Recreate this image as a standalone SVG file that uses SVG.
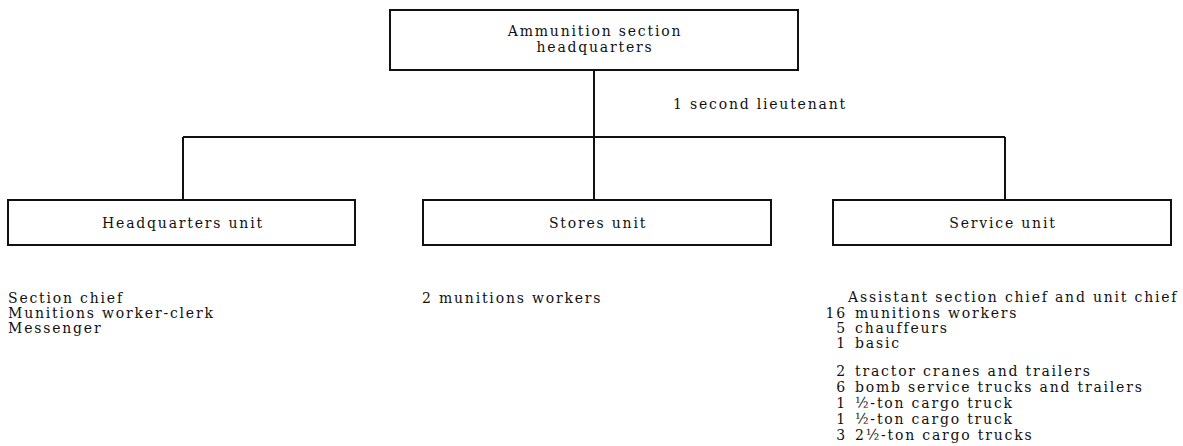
<svg xmlns="http://www.w3.org/2000/svg" width="1183" height="446" viewBox="0 0 1183 446">
<style>
.box{fill:#fff;stroke:#111;stroke-width:2}
.ln{stroke:#111;stroke-width:2;fill:none}
text{font-family:"DejaVu Serif","Liberation Serif",serif;font-size:14px;letter-spacing:1.8px;fill:#111}
.c{text-anchor:middle}
.r{text-anchor:end}
</style>
<rect width="1183" height="446" fill="#fff"/>
<g id="connectors">
<path class="ln" d="M594 70V137M183 137H1005M183 137V200M594 137V200M1005 137V200"/>
</g>
<g id="hq">
<rect class="box" x="390" y="10" width="408" height="60"/>
<text class="c" x="595" y="36">Ammunition section</text>
<text class="c" x="595" y="52">headquarters</text>
</g>
<text x="673" y="109">1  second lieutenant</text>
<g id="hqunit">
<rect class="box" x="8" y="200" width="347" height="45"/>
<text class="c" x="183" y="228">Headquarters unit</text>
</g>
<g id="stores">
<rect class="box" x="423" y="200" width="348" height="45"/>
<text class="c" x="598" y="228">Stores unit</text>
</g>
<g id="service">
<rect class="box" x="833" y="200" width="338" height="45"/>
<text class="c" x="1003" y="228">Service unit</text>
</g>
<g id="hqlist">
<text x="8" y="303">Section chief</text>
<text x="8" y="318">Munitions worker-clerk</text>
<text x="8" y="333">Messenger</text>
</g>
<g id="storeslist">
<text x="422" y="303">2  munitions workers</text>
</g>
<g id="servicelist">
<text x="848" y="302">Assistant section chief and unit chief</text>
<text class="r" x="847" y="318">16</text><text x="855" y="318">munitions workers</text>
<text class="r" x="847" y="333">5</text><text x="855" y="333">chauffeurs</text>
<text class="r" x="847" y="348">1</text><text x="855" y="348">basic</text>
<text class="r" x="847" y="376">2</text><text x="855" y="376">tractor cranes and trailers</text>
<text class="r" x="847" y="392">6</text><text x="855" y="392">bomb service trucks and trailers</text>
<text class="r" x="847" y="408">1</text><text x="855" y="408">½-ton cargo truck</text>
<text class="r" x="847" y="424">1</text><text x="855" y="424">½-ton cargo truck</text>
<text class="r" x="847" y="440">3</text><text x="855" y="440">2½-ton cargo trucks</text>
</g>
</svg>
